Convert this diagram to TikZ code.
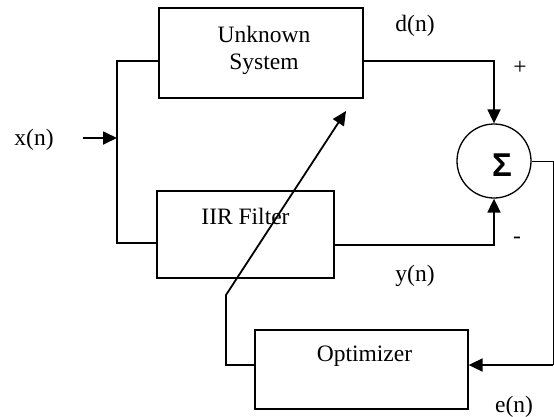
\documentclass[tikz,border=0pt]{standalone}
\usepackage{fontspec}
\setmainfont{Liberation Serif}
\newfontfamily\sigmafont{Liberation Sans}
\usetikzlibrary{arrows.meta}
\usetikzlibrary{positioning}

\tikzset{
	bloque/.style={draw,line width=1.3pt,inner sep=0pt},
	rotulo/.style={inner sep=0pt,align=center},
	cable/.style={line width=1.8pt},
	flecha/.style={cable,-{Triangle[length=14pt,width=13pt]}},
}

\begin{document}
\begin{tikzpicture}[x=1pt,y=-1pt,font=\fontsize{23.5}{27}\selectfont]
	\useasboundingbox[fill=white] (0,0) rectangle (554,416);
	% bloques (coordenadas en pixeles, y hacia abajo)
	\node[bloque,minimum width=204pt,minimum height=90pt] (unk) at (261,53) {};
	\node[bloque,minimum width=177pt,minimum height=87pt] (iir) at (245.5,234.5) {};
	\node[bloque,minimum width=213pt,minimum height=79pt] (opt) at (361.5,369.5) {};
	\node[draw,circle,line width=1.3pt,minimum size=74pt,inner sep=0pt] (sum) at (494,161) {};
	\node[rotulo,below=18.5pt of unk.north,xshift=3pt] (unkT) {Unknown\\System};
	\node[rotulo,below=17.5pt of iir.north] (iirT) {IIR Filter};
	\node[rotulo,below=16.5pt of opt.north,xshift=3pt] (optT) {Optimizer};
	\node[inner sep=0pt,font=\sigmafont\fontsize{33}{36}\selectfont\bfseries] (sig) at (502,165) {Σ};
	% senales
	\node[anchor=base] (xn) at (34,145) {x(n)};
	\node[anchor=base] (dn) at (415,31) {d(n)};
	\node[anchor=base] (yn) at (415,281) {y(n)};
	\node[anchor=base] (en) at (514,412) {e(n)};
	\node (mas) at (520,68) {+};
	\node (menos) at (517,240) {-};
	% conexiones
	\coordinate (ent) at (83,138);
	\coordinate (nudo) at (117,138);
	\coordinate (arr) at (117,61);
	\coordinate (abj) at (117,243);
	\coordinate (ysal) at (400,245);
	\coordinate (der) at (553,365);
	\coordinate (izq) at (226,365);
	\coordinate (codo) at (226,295);
	\coordinate (punta) at (346,111);
	\draw[flecha] (ent) -- (nudo);
	\draw[line width=1.3pt] (unk.west |- arr) -- (arr) -- (abj) -- (iir.west |- abj);
	\draw[flecha] (unk.east |- arr) -| (sum.north);
	\draw[flecha] (iir.east |- ysal) -| (sum.south);
	\draw[line width=1pt] (sum.east) -| (der);
	\draw[flecha] (der) -- (opt.east |- der);
	\draw[flecha] (opt.west |- izq) -- (izq) -- (codo) -- (punta);
\end{tikzpicture}
\end{document}
